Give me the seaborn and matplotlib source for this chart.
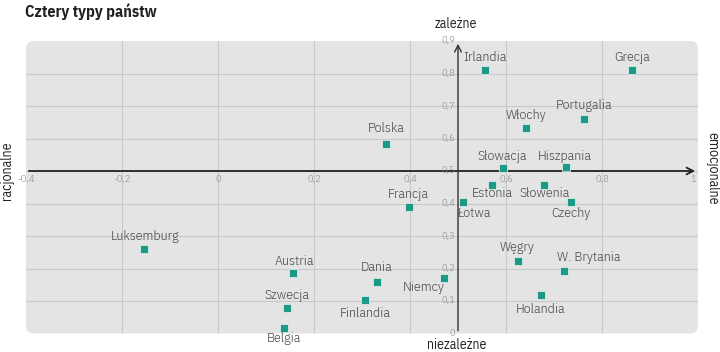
import numpy as np
import pandas as pd
import seaborn as sns
import matplotlib.pyplot as plt
from matplotlib.patches import FancyBboxPatch

countries = ["Irlandia", "Grecja", "Portugalia", "Włochy", "Polska", "Słowacja",
             "Hiszpania", "Estonia", "Słowenia", "Łotwa", "Czechy", "Francja",
             "Węgry", "W. Brytania", "Niemcy", "Dania", "Finlandia", "Holandia",
             "Luksemburg", "Austria", "Szwecja", "Belgia"]
rational = [0.557, 0.862, 0.763, 0.642, 0.351, 0.593,
            0.724, 0.571, 0.680, 0.510, 0.735, 0.397,
            0.625, 0.721, 0.471, 0.331, 0.306, 0.672,
            -0.154, 0.157, 0.143, 0.138]
dependent = [0.812, 0.812, 0.659, 0.633, 0.584, 0.508,
             0.511, 0.457, 0.457, 0.404, 0.404, 0.389,
             0.222, 0.193, 0.171, 0.158, 0.103, 0.119,
             0.261, 0.185, 0.079, 0.017]
x_ticks = [-0.4, -0.2, 0, 0.2, 0.4, 0.6, 0.8, 1.0]
x_tick_labels = ["-0,4", "-0,2", "0", "0,2", "0,4", "0,6", "0,8", "1"]
y_ticks = [0, 0.1, 0.2, 0.3, 0.4, 0.5, 0.6, 0.7, 0.8, 0.9]
y_tick_labels = ["0", "0,1", "0,2", "0,3", "0,4", "0,5", "0,6", "0,7", "0,8", "0,9"]

# label placement: (dx px, dy px, ha)
label_pos = {
    "Irlandia": (0, 12, "center"), "Grecja": (0, 12, "center"),
    "Portugalia": (0, 14, "center"), "Włochy": (0, 12, "center"),
    "Polska": (0, 15, "center"), "Słowacja": (0, 12, "center"),
    "Hiszpania": (-1, 11, "center"), "Estonia": (0, -9, "center"),
    "Słowenia": (0, -9, "center"), "Łotwa": (-5, -11, "left"),
    "Czechy": (0, -11, "center"), "Francja": (0, 13, "center"),
    "Węgry": (-1, 14, "center"), "W. Brytania": (-7, 13, "left"),
    "Niemcy": (1, -10, "right"), "Dania": (0, 15, "center"),
    "Finlandia": (0, -13, "center"), "Holandia": (0, -15, "center"),
    "Luksemburg": (1, 12, "center"), "Austria": (1, 12, "center"),
    "Szwecja": (0, 12, "center"), "Belgia": (0, -11, "center"),
}

df = pd.DataFrame({"kraj": countries, "x": rational, "y": dependent})

sns.set_style("white")
plt.rcParams["font.family"] = ["IBM Plex Sans Condensed", "Liberation Sans", "DejaVu Sans"]

fig = plt.figure(figsize=(7.2, 3.52), dpi=100)
ax = fig.add_axes([26 / 720, 1 - 333.5 / 352, 672 / 720, 292.5 / 352])
ax.set_xlim(-0.4, 1.0)
ax.set_ylim(0, 0.9)
for s in ax.spines.values():
    s.set_visible(False)

panel = FancyBboxPatch((0, 0), 1, 1, boxstyle="round,pad=0,rounding_size=0.012",
                       mutation_aspect=672 / 292.5, transform=ax.transAxes,
                       facecolor="#e4e4e4", edgecolor="none", zorder=0)
ax.add_patch(panel)

for xv in x_ticks[1:-1]:
    ax.axvline(xv, color="#c8c8c8", lw=0.8, zorder=1, clip_path=panel)
for yv in y_ticks[1:-1]:
    ax.axhline(yv, color="#c8c8c8", lw=0.8, zorder=1, clip_path=panel)
ax.set_xticks([])
ax.set_yticks([])

# axes with arrows
ax.annotate("", xy=(1.0, 0.5), xytext=(-0.4, 0.5),
            arrowprops=dict(arrowstyle="->", color="#222222", lw=1.3, mutation_scale=12),
            annotation_clip=False, zorder=3)
ax.annotate("", xy=(0.5, 0.9), xytext=(0.5, 0.0),
            arrowprops=dict(arrowstyle="->", color="#333333", lw=1.0, mutation_scale=12),
            annotation_clip=False, zorder=3)

for xv, lab in zip(x_ticks, x_tick_labels):
    ax.annotate(lab, (min(xv, 0.99), 0.5), xytext=(0, -9), textcoords="offset pixels",
                ha="center", va="center", fontsize=7.5, fontweight=300,
                color="#8a8a8a", zorder=4)
for yv, lab in zip(y_ticks, y_tick_labels):
    ax.annotate(lab, (0.5, yv), xytext=(-3, 0), textcoords="offset pixels",
                ha="right", va="center", fontsize=7.5, fontweight=300,
                color="#8a8a8a", zorder=4)

sns.scatterplot(data=df, x="x", y="y", ax=ax, marker="s", s=26, color="#1c9a86",
                edgecolor="#e8f4f2", linewidth=0.5, zorder=5, legend=False)

for k, xv, yv in zip(countries, rational, dependent):
    dx, dy, ha = label_pos[k]
    ax.annotate(k, (xv, yv), xytext=(dx, dy), textcoords="offset pixels",
                ha=ha, va="center", fontsize=10, fontweight=300,
                color="#4d4d4d", zorder=6)

ax.set_xlabel("")
ax.set_ylabel("")

fig.text(25 / 720, 1 - 12 / 352, "Cztery typy państw", fontsize=11.5, fontweight="bold",
         color="#222222", ha="left", va="center")
fig.text(456 / 720, 1 - 24 / 352, "zależne", fontsize=10, color="#222222",
         ha="center", va="center")
fig.text(457 / 720, 1 - 345 / 352, "niezależne", fontsize=10, color="#222222",
         ha="center", va="center")
fig.text(7 / 720, 1 - 171 / 352, "racjonalne", fontsize=10, color="#222222",
         ha="center", va="center", rotation=90)
fig.text(712 / 720, 1 - 168 / 352, "emocjonalne", fontsize=10, color="#222222",
         ha="center", va="center", rotation=-90)

fig.savefig("out.png", dpi=100, facecolor="white")
